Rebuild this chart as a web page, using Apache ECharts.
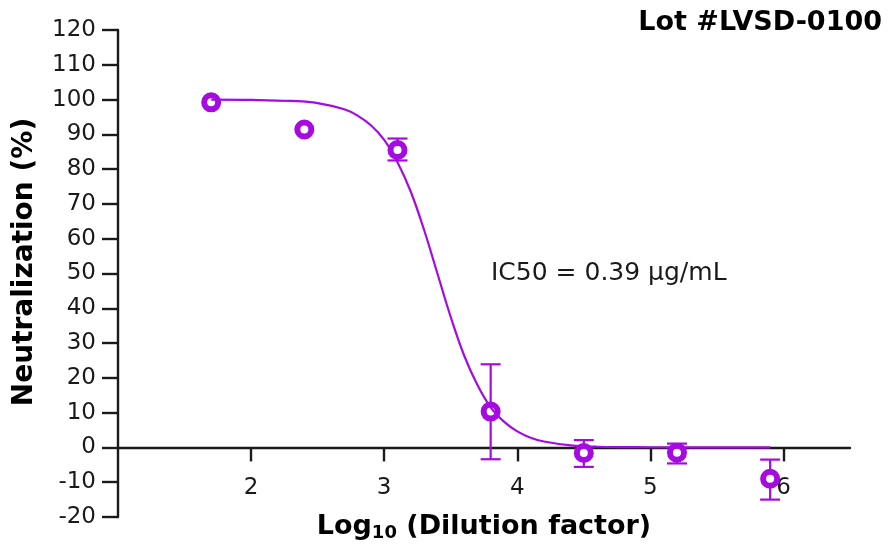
<!DOCTYPE html>
<html>
<head>
<meta charset="utf-8">
<script src="https://cdn.jsdelivr.net/npm/echarts@6/dist/echarts.min.js"></script>
<style>
html,body{margin:0;padding:0;background:#fff;}
#chart{width:889px;height:546px;}
</style>
</head>
<body>
<div id="chart"></div>
<script>
// Observed points (log10 dilution factor vs neutralization %)
const doseLog = [1.7, 2.4, 3.1, 3.8, 4.5, 5.2, 5.9];
const neutMean = [99.2, 91.4, 85.5, 10.3, -1.6, -1.5, -9.0];
const errLow = [null, null, 82.5, -3.4, -5.6, -4.6, -15.0];
const errHigh = [null, null, 88.8, 23.9, 2.1, 1.1, -3.5];
// Fitted curve
const fitX = [1.7, 2.0, 2.3, 2.5, 2.7, 2.8, 2.9, 3.0, 3.1, 3.2, 3.3, 3.4, 3.5, 3.6, 3.7, 3.8, 3.9, 4.0, 4.1, 4.2, 4.4, 4.6, 5.0, 5.5, 5.9];
const fitY = [100, 99.9, 99.6, 99.0, 97.2, 95.4, 92.6, 88.4, 82.0, 73.5, 62.5, 50.0, 37.5, 26.5, 18.0, 11.5, 7.4, 4.6, 2.8, 1.7, 0.6, 0.2, 0.05, 0, 0];
const xTicks = [2, 3, 4, 5, 6];
const lotLabel = 'Lot #LVSD-0100';
const ic50Label = 'IC50 = 0.39 µg/mL';

const PURPLE = '#A50BE0';
const INK = '#1a1a1a';
const FONT = '"DejaVu Sans", Verdana, sans-serif';

const W = 889, H = 546;
const GRID = { left: 118, right: 39, top: 30, bottom: 29 };
const Y_MIN = -20, Y_MAX = 120;
// lift the x axis from the grid bottom up to the y = 0 line
const gridH = H - GRID.top - GRID.bottom;
const xAxisOffset = -gridH * (0 - Y_MIN) / (Y_MAX - Y_MIN);

const chart = echarts.init(document.getElementById('chart'));

const pts = doseLog.map((x, i) => [x, neutMean[i]]);
const errData = [];
doseLog.forEach((x, i) => { if (errLow[i] !== null) errData.push([x, errLow[i], errHigh[i]]); });
const fit = fitX.map((x, i) => [x, fitY[i]]);

chart.setOption({
  animation: false,
  backgroundColor: '#fff',
  grid: Object.assign({ containLabel: false, outerBoundsMode: 'none' }, GRID),
  title: {
    text: lotLabel, right: 2, top: 4,
    textStyle: { fontFamily: FONT, fontSize: 27, fontWeight: 'bold', color: '#000' }
  },
  xAxis: {
    type: 'value', min: 1, max: 6.5, interval: 1,
    position: 'bottom', offset: xAxisOffset,
    axisLine: { onZero: false, lineStyle: { color: INK, width: 2.4 } },
    axisTick: { show: true, length: 14, lineStyle: { color: INK, width: 2.4 }, customValues: xTicks },
    axisLabel: { customValues: xTicks, margin: 29, fontFamily: FONT, fontSize: 23, color: INK },
    splitLine: { show: false },
    name: '{a|Log}{s|10}{a| (Dilution factor)}',
    nameLocation: 'middle', nameGap: 64,
    nameTextStyle: {
      rich: {
        a: { fontFamily: FONT, fontSize: 27, fontWeight: 'bold', color: '#000' },
        s: { fontFamily: FONT, fontSize: 18, fontWeight: 'bold', color: '#000', padding: [13, 0, 0, 0] }
      }
    }
  },
  yAxis: {
    type: 'value', min: Y_MIN, max: Y_MAX, interval: 10,
    axisLine: { show: true, lineStyle: { color: INK, width: 2.4 } },
    axisTick: { show: true, length: 16, lineStyle: { color: INK, width: 2.4 } },
    axisLabel: { margin: 22, fontFamily: FONT, fontSize: 23, color: INK },
    splitLine: { show: false }
  },
  graphic: [
    {
      type: 'text', x: 25, y: 262, rotation: Math.PI / 2,
      style: { text: 'Neutralization (%)', align: 'center', verticalAlign: 'middle',
        font: 'bold 28px ' + FONT, fill: '#000' }
    },
    {
      type: 'text', x: 491, y: 273,
      style: { text: ic50Label, align: 'left', verticalAlign: 'middle',
        font: '25px ' + FONT, fill: INK }
    }
  ],
  series: [
    {
      type: 'custom', name: 'err', z: 3,
      data: errData,
      renderItem: function (params, api) {
        const x = api.value(0);
        const lo = api.coord([x, api.value(1)]);
        const hi = api.coord([x, api.value(2)]);
        const w = 10;
        const st = { stroke: PURPLE, lineWidth: 2.2 };
        return {
          type: 'group',
          children: [
            { type: 'line', shape: { x1: lo[0], y1: lo[1], x2: hi[0], y2: hi[1] }, style: st },
            { type: 'line', shape: { x1: lo[0] - w, y1: lo[1], x2: lo[0] + w, y2: lo[1] }, style: st },
            { type: 'line', shape: { x1: hi[0] - w, y1: hi[1], x2: hi[0] + w, y2: hi[1] }, style: st }
          ]
        };
      }
    },
    {
      type: 'scatter', z: 4,
      data: pts,
      symbol: 'circle', symbolSize: 14,
      itemStyle: { color: '#fff', borderColor: PURPLE, borderWidth: 6, opacity: 1 }
    },
    {
      type: 'line', z: 5,
      data: fit,
      showSymbol: false, smooth: 0.4,
      lineStyle: { color: PURPLE, width: 2.2 }
    }
  ]
});
</script>
</body>
</html>
